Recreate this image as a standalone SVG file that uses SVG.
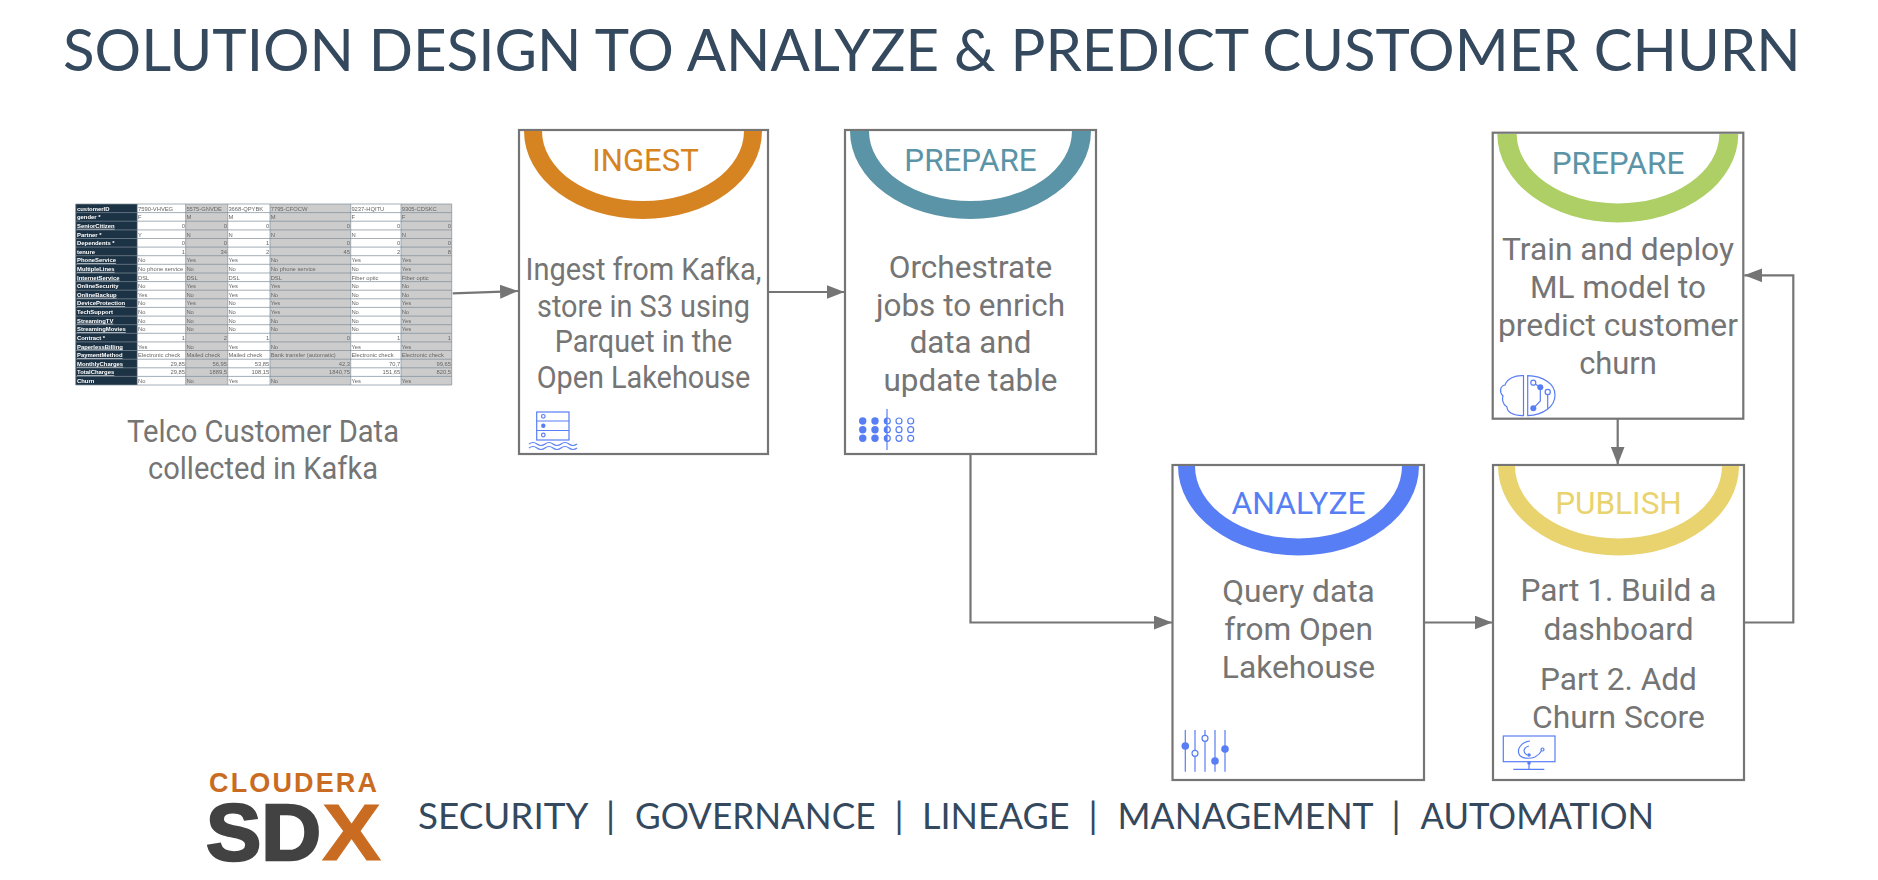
<svg xmlns="http://www.w3.org/2000/svg" width="1878" height="880" viewBox="0 0 1878 880">
<style>
text{font-family:Roboto,"Liberation Sans",sans-serif}
.t{font-family:Lato,"Liberation Sans",sans-serif;fill:#34495e}
.b{fill:#fff;stroke:#757575;stroke-width:2.2}
.h{font-size:31.5px;font-weight:400;text-anchor:middle}
.x{font-size:31.5px;font-weight:400;text-anchor:middle;fill:#757575}
.c{stroke:#757575;stroke-width:2.2;fill:none}
.i{fill:none;stroke:#587ef5;stroke-width:1.2}
.f{fill:#587ef5;stroke:none}
.o{fill:#fff;stroke:#587ef5;stroke-width:1.2}
.a{font-family:"Liberation Sans",sans-serif;font-size:5.8px;fill:#666}
.r{text-anchor:end}
.k{font-family:"Liberation Sans",sans-serif;font-size:5.9px;font-weight:bold;fill:#fff}
.u{text-decoration:underline;text-decoration-color:#c0392b}
.g{stroke:#7d8c9a;stroke-width:.7;fill:none}
</style>
<defs>
<marker id="ah" markerUnits="userSpaceOnUse" markerWidth="18" markerHeight="14" refX="18" refY="7" orient="auto"><path d="M0 0L18 7L0 14Z" fill="#757575"/></marker>
<filter id="bl" x="-2%" y="-2%" width="104%" height="104%"><feGaussianBlur stdDeviation="0.45"/></filter>
</defs>
<rect width="1878" height="880" fill="#fff"/>
<text class="t" x="63" y="71" font-size="58.2">SOLUTION DESIGN TO ANALYZE &amp; PREDICT CUSTOMER CHURN</text>

<g id="telco-table" filter="url(#bl)">
<rect x="75.7" y="204" width="61.6" height="181" fill="#1f3344"/>
<rect x="137.3" y="204" width="48.4" height="181" fill="#fff"/>
<rect x="185.7" y="204" width="42" height="181" fill="#ccc"/>
<rect x="227.7" y="204" width="42.3" height="181" fill="#fff"/>
<rect x="270" y="204" width="80.7" height="181" fill="#ccc"/>
<rect x="350.7" y="204" width="50.3" height="181" fill="#fff"/>
<rect x="401" y="204" width="50.7" height="181" fill="#ccc"/>
<path class="g" d="M75.7 204H451.7M75.7 212.6H451.7M75.7 221.2H451.7M75.7 229.9H451.7M75.7 238.5H451.7M75.7 247.1H451.7M75.7 255.7H451.7M75.7 264.3H451.7M75.7 273H451.7M75.7 281.6H451.7M75.7 290.2H451.7M75.7 298.8H451.7M75.7 307.4H451.7M75.7 316.1H451.7M75.7 324.7H451.7M75.7 333.3H451.7M75.7 341.9H451.7M75.7 350.5H451.7M75.7 359.2H451.7M75.7 367.8H451.7M75.7 376.4H451.7M75.7 385H451.7M75.7 204V385M137.3 204V385M185.7 204V385M227.7 204V385M270 204V385M350.7 204V385M401 204V385M451.7 204V385"/>
<g>
<text class="k" x="77" y="210.6">customerID</text><text class="k" x="77" y="219.2">gender *</text><text class="k u" x="77" y="227.8">SeniorCitizen</text><text class="k" x="77" y="236.5">Partner *</text><text class="k" x="77" y="245.1">Dependents *</text><text class="k" x="77" y="253.7">tenure</text><text class="k u" x="77" y="262.3">PhoneService</text><text class="k u" x="77" y="270.9">MultipleLines</text><text class="k u" x="77" y="279.6">InternetService</text><text class="k" x="77" y="288.2">OnlineSecurity</text><text class="k u" x="77" y="296.8">OnlineBackup</text><text class="k u" x="77" y="305.4">DeviceProtection</text><text class="k" x="77" y="314">TechSupport</text><text class="k u" x="77" y="322.7">StreamingTV</text><text class="k u" x="77" y="331.3">StreamingMovies</text><text class="k" x="77" y="339.9">Contract *</text><text class="k u" x="77" y="348.5">PaperlessBilling</text><text class="k u" x="77" y="357.1">PaymentMethod</text><text class="k u" x="77" y="365.8">MonthlyCharges</text><text class="k u" x="77" y="374.4">TotalCharges</text><text class="k" x="77" y="383">Churn</text>
</g>
<g>
<text class="a" x="138" y="210.6">7590-VHVEG</text><text class="a" x="186.4" y="210.6">5575-GNVDE</text><text class="a" x="228.4" y="210.6">3668-QPYBK</text><text class="a" x="270.7" y="210.6">7795-CFOCW</text><text class="a" x="351.4" y="210.6">9237-HQITU</text><text class="a" x="401.7" y="210.6">9305-CDSKC</text>
<text class="a" x="138" y="219.2">F</text><text class="a" x="186.4" y="219.2">M</text><text class="a" x="228.4" y="219.2">M</text><text class="a" x="270.7" y="219.2">M</text><text class="a" x="351.4" y="219.2">F</text><text class="a" x="401.7" y="219.2">F</text>
<text class="a r" x="185" y="227.8">0</text><text class="a r" x="227" y="227.8">0</text><text class="a r" x="269.3" y="227.8">0</text><text class="a r" x="350" y="227.8">0</text><text class="a r" x="400.3" y="227.8">0</text><text class="a r" x="451" y="227.8">0</text>
<text class="a" x="138" y="236.5">Y</text><text class="a" x="186.4" y="236.5">N</text><text class="a" x="228.4" y="236.5">N</text><text class="a" x="270.7" y="236.5">N</text><text class="a" x="351.4" y="236.5">N</text><text class="a" x="401.7" y="236.5">N</text>
<text class="a r" x="185" y="245.1">0</text><text class="a r" x="227" y="245.1">0</text><text class="a r" x="269.3" y="245.1">1</text><text class="a r" x="350" y="245.1">0</text><text class="a r" x="400.3" y="245.1">0</text><text class="a r" x="451" y="245.1">0</text>
<text class="a r" x="185" y="253.7">1</text><text class="a r" x="227" y="253.7">34</text><text class="a r" x="269.3" y="253.7">2</text><text class="a r" x="350" y="253.7">45</text><text class="a r" x="400.3" y="253.7">2</text><text class="a r" x="451" y="253.7">8</text>
<text class="a" x="138" y="262.3">No</text><text class="a" x="186.4" y="262.3">Yes</text><text class="a" x="228.4" y="262.3">Yes</text><text class="a" x="270.7" y="262.3">No</text><text class="a" x="351.4" y="262.3">Yes</text><text class="a" x="401.7" y="262.3">Yes</text>
<text class="a" x="138" y="270.9">No phone service</text><text class="a" x="186.4" y="270.9">No</text><text class="a" x="228.4" y="270.9">No</text><text class="a" x="270.7" y="270.9">No phone service</text><text class="a" x="351.4" y="270.9">No</text><text class="a" x="401.7" y="270.9">Yes</text>
<text class="a" x="138" y="279.6">DSL</text><text class="a" x="186.4" y="279.6">DSL</text><text class="a" x="228.4" y="279.6">DSL</text><text class="a" x="270.7" y="279.6">DSL</text><text class="a" x="351.4" y="279.6">Fiber optic</text><text class="a" x="401.7" y="279.6">Fiber optic</text>
<text class="a" x="138" y="288.2">No</text><text class="a" x="186.4" y="288.2">Yes</text><text class="a" x="228.4" y="288.2">Yes</text><text class="a" x="270.7" y="288.2">Yes</text><text class="a" x="351.4" y="288.2">No</text><text class="a" x="401.7" y="288.2">No</text>
<text class="a" x="138" y="296.8">Yes</text><text class="a" x="186.4" y="296.8">No</text><text class="a" x="228.4" y="296.8">Yes</text><text class="a" x="270.7" y="296.8">No</text><text class="a" x="351.4" y="296.8">No</text><text class="a" x="401.7" y="296.8">No</text>
<text class="a" x="138" y="305.4">No</text><text class="a" x="186.4" y="305.4">Yes</text><text class="a" x="228.4" y="305.4">No</text><text class="a" x="270.7" y="305.4">Yes</text><text class="a" x="351.4" y="305.4">No</text><text class="a" x="401.7" y="305.4">Yes</text>
<text class="a" x="138" y="314">No</text><text class="a" x="186.4" y="314">No</text><text class="a" x="228.4" y="314">No</text><text class="a" x="270.7" y="314">Yes</text><text class="a" x="351.4" y="314">No</text><text class="a" x="401.7" y="314">No</text>
<text class="a" x="138" y="322.7">No</text><text class="a" x="186.4" y="322.7">No</text><text class="a" x="228.4" y="322.7">No</text><text class="a" x="270.7" y="322.7">No</text><text class="a" x="351.4" y="322.7">No</text><text class="a" x="401.7" y="322.7">Yes</text>
<text class="a" x="138" y="331.3">No</text><text class="a" x="186.4" y="331.3">No</text><text class="a" x="228.4" y="331.3">No</text><text class="a" x="270.7" y="331.3">No</text><text class="a" x="351.4" y="331.3">No</text><text class="a" x="401.7" y="331.3">Yes</text>
<text class="a r" x="185" y="339.9">1</text><text class="a r" x="227" y="339.9">2</text><text class="a r" x="269.3" y="339.9">1</text><text class="a r" x="350" y="339.9">0</text><text class="a r" x="400.3" y="339.9">1</text><text class="a r" x="451" y="339.9">1</text>
<text class="a" x="138" y="348.5">Yes</text><text class="a" x="186.4" y="348.5">No</text><text class="a" x="228.4" y="348.5">Yes</text><text class="a" x="270.7" y="348.5">No</text><text class="a" x="351.4" y="348.5">Yes</text><text class="a" x="401.7" y="348.5">Yes</text>
<text class="a" x="138" y="357.1">Electronic check</text><text class="a" x="186.4" y="357.1">Mailed check</text><text class="a" x="228.4" y="357.1">Mailed check</text><text class="a" x="270.7" y="357.1">Bank transfer (automatic)</text><text class="a" x="351.4" y="357.1">Electronic check</text><text class="a" x="401.7" y="357.1">Electronic check</text>
<text class="a r" x="185" y="365.8">29,85</text><text class="a r" x="227" y="365.8">56,95</text><text class="a r" x="269.3" y="365.8">53,85</text><text class="a r" x="350" y="365.8">42,3</text><text class="a r" x="400.3" y="365.8">70,7</text><text class="a r" x="451" y="365.8">99,65</text>
<text class="a r" x="185" y="374.4">29,85</text><text class="a r" x="227" y="374.4">1889,5</text><text class="a r" x="269.3" y="374.4">108,15</text><text class="a r" x="350" y="374.4">1840,75</text><text class="a r" x="400.3" y="374.4">151,65</text><text class="a r" x="451" y="374.4">820,5</text>
<text class="a" x="138" y="383">No</text><text class="a" x="186.4" y="383">No</text><text class="a" x="228.4" y="383">Yes</text><text class="a" x="270.7" y="383">No</text><text class="a" x="351.4" y="383">Yes</text><text class="a" x="401.7" y="383">Yes</text>
</g>
</g>
<g id="telco-caption">
<text class="x" x="263" y="442" font-size="28" textLength="272" lengthAdjust="spacingAndGlyphs">Telco Customer Data</text>
<text class="x" x="263" y="479" font-size="28" textLength="230" lengthAdjust="spacingAndGlyphs">collected in Kafka</text>
</g>

<g id="connectors">
<path class="c" d="M452.7 293.4L518 291" marker-end="url(#ah)"/>
<path class="c" d="M768 292H844.5" marker-end="url(#ah)"/>
<path class="c" d="M970.5 454V622.5H1172" marker-end="url(#ah)"/>
<path class="c" d="M1425 622.5H1492.5" marker-end="url(#ah)"/>
<path class="c" d="M1744 622.5H1793.3V275.3H1744.3" marker-end="url(#ah)"/>
<path class="c" d="M1617.7 419V464.5" marker-end="url(#ah)"/>
</g>

<g id="ingest">
<rect class="b" x="519" y="130" width="249" height="324"/>
<path fill="#d68422" d="M524 131A119 88 0 0 0 762 131H744A101 70 0 0 1 542 131Z"/>
<text class="h" x="645.5" y="171" fill="#d68422" textLength="106.5" lengthAdjust="spacingAndGlyphs">INGEST</text>
<text class="x" x="643.5" y="280" textLength="236" lengthAdjust="spacingAndGlyphs">Ingest from Kafka,</text>
<text class="x" x="643.5" y="317" textLength="213" lengthAdjust="spacingAndGlyphs">store in S3 using</text>
<text class="x" x="643.5" y="352" textLength="177.6" lengthAdjust="spacingAndGlyphs">Parquet in the</text>
<text class="x" x="643.5" y="388" textLength="213.7" lengthAdjust="spacingAndGlyphs">Open Lakehouse</text>
<g>
<rect class="i" x="536.7" y="412" width="32.3" height="28"/>
<path class="i" d="M536.7 421H569M536.7 430.5H569"/>
<circle class="o" cx="543.3" cy="416.3" r="1.8"/><circle class="f" cx="543.3" cy="425.7" r="2.2"/><circle class="o" cx="543.3" cy="435" r="1.8"/>
<path class="i" d="M529 444q4-3 8 0t8 0t8 0t8 0t8 0t8 0M529 448q4-3 8 0t8 0t8 0t8 0t8 0t8 0"/>
</g>
</g>

<g id="prepare">
<rect class="b" x="845" y="130" width="251" height="324"/>
<path fill="#5b94a6" d="M850 131A120.5 88 0 0 0 1091 131H1072A101.5 70 0 0 1 869 131Z"/>
<text class="h" x="970.5" y="171" fill="#5b94a6" textLength="132.3" lengthAdjust="spacingAndGlyphs">PREPARE</text>
<text class="x" x="970.5" y="278" textLength="163.5" lengthAdjust="spacingAndGlyphs">Orchestrate</text>
<text class="x" x="970.5" y="316" textLength="189" lengthAdjust="spacingAndGlyphs">jobs to enrich</text>
<text class="x" x="970.5" y="353" textLength="121.7" lengthAdjust="spacingAndGlyphs">data and</text>
<text class="x" x="970.5" y="391" textLength="174" lengthAdjust="spacingAndGlyphs">update table</text>
<g>
<circle class="f" cx="862.7" cy="421" r="3.7"/><circle class="f" cx="875" cy="421" r="3.7"/><circle class="o" cx="887.3" cy="421" r="3"/><circle class="o" cx="899" cy="421" r="3"/><circle class="o" cx="910.7" cy="421" r="3"/>
<circle class="f" cx="862.7" cy="429.7" r="3.7"/><circle class="f" cx="875" cy="429.7" r="3.7"/><circle class="o" cx="887.3" cy="429.7" r="3"/><circle class="o" cx="899" cy="429.7" r="3"/><circle class="o" cx="910.7" cy="429.7" r="3"/>
<circle class="f" cx="862.7" cy="438.3" r="3.7"/><circle class="f" cx="875" cy="438.3" r="3.7"/><circle class="o" cx="887.3" cy="438.3" r="3"/><circle class="o" cx="899" cy="438.3" r="3"/><circle class="o" cx="910.7" cy="438.3" r="3"/>
<path class="f" d="M887 417.5a3.6 3.6 0 0 0 0 7zM887 426.2a3.6 3.6 0 0 0 0 7zM887 434.8a3.6 3.6 0 0 0 0 7z"/>
<path class="i" d="M887 409V450"/>
</g>
</g>

<g id="prepare-model">
<rect class="b" x="1492.7" y="132.7" width="250.6" height="286"/>
<path fill="#aecf66" d="M1497.3 134A120.5 88.5 0 0 0 1738.3 134H1719.3A101.3 69.5 0 0 1 1516.7 134Z"/>
<text class="h" x="1618" y="173.5" fill="#5b94a6" textLength="132.7" lengthAdjust="spacingAndGlyphs">PREPARE</text>
<text class="x" x="1618" y="260" textLength="232" lengthAdjust="spacingAndGlyphs">Train and deploy</text>
<text class="x" x="1618" y="298" textLength="176" lengthAdjust="spacingAndGlyphs">ML model to</text>
<text class="x" x="1618" y="336" textLength="240" lengthAdjust="spacingAndGlyphs">predict customer</text>
<text class="x" x="1618" y="374" textLength="77.7" lengthAdjust="spacingAndGlyphs">churn</text>
<g>
<path class="i" d="M1523.5 375.7V415.7C1513 416 1507 412 1507 407C1502 404 1502 398 1503 396C1499 392 1500 386 1505 385C1507 379 1515 375 1523.5 375.7Z"/>
<path class="i" d="M1527.7 375.7V415.7C1543 415 1555 407 1555 395C1555 384 1543 376 1527.7 375.7Z"/>
<path class="i" d="M1533.3 382.7L1540.3 387.3V401L1533.3 408.3M1547.7 392V409"/>
<circle class="o" cx="1533.3" cy="382.7" r="2.5"/><circle class="f" cx="1540.3" cy="387.3" r="3"/><circle class="o" cx="1547.7" cy="392" r="2.6"/><circle class="f" cx="1533.3" cy="408.3" r="3"/>
</g>
</g>

<g id="analyze">
<rect class="b" x="1172.5" y="465" width="251.5" height="315"/>
<path fill="#587ef5" d="M1178 466A120.5 89.5 0 0 0 1419 466H1402A103.5 72.5 0 0 1 1195 466Z"/>
<text class="h" x="1298.5" y="513.5" fill="#587ef5" textLength="134" lengthAdjust="spacingAndGlyphs">ANALYZE</text>
<text class="x" x="1298.5" y="602" textLength="152.5" lengthAdjust="spacingAndGlyphs">Query data</text>
<text class="x" x="1298.5" y="640" textLength="148.7" lengthAdjust="spacingAndGlyphs">from Open</text>
<text class="x" x="1298.5" y="678" textLength="153.4" lengthAdjust="spacingAndGlyphs">Lakehouse</text>
<g>
<path class="i" d="M1185.3 730V771.7M1195 730V771.7M1205 730V771.7M1215 730V771.7M1225 730V771.7"/>
<circle class="f" cx="1185.3" cy="746" r="3.8"/><circle class="o" cx="1195" cy="753.3" r="3"/><circle class="o" cx="1205" cy="738.3" r="3"/><circle class="f" cx="1215" cy="761" r="3.8"/><circle class="f" cx="1225" cy="749" r="3.8"/>
</g>
</g>

<g id="publish">
<rect class="b" x="1493" y="465" width="251" height="315"/>
<path fill="#e9d36e" d="M1498 466A120.5 89.5 0 0 0 1739 466H1722A103.5 72.5 0 0 1 1515 466Z"/>
<text class="h" x="1618.5" y="513.5" fill="#e9d36e" textLength="126.7" lengthAdjust="spacingAndGlyphs">PUBLISH</text>
<text class="x" x="1618.5" y="601" textLength="196" lengthAdjust="spacingAndGlyphs">Part 1. Build a</text>
<text class="x" x="1618.5" y="640" textLength="150" lengthAdjust="spacingAndGlyphs">dashboard</text>
<text class="x" x="1618.5" y="690" textLength="156.8" lengthAdjust="spacingAndGlyphs">Part 2. Add</text>
<text class="x" x="1618.5" y="728" textLength="172.9" lengthAdjust="spacingAndGlyphs">Churn Score</text>
<g>
<rect class="i" x="1503.3" y="736" width="51.7" height="25.7"/>
<path class="i" d="M1529 762V769.3M1513.3 769.3H1544.3"/>
<circle class="f" cx="1529" cy="763" r="1.8"/>
<path class="i" d="M1530 741C1521 742 1517 749 1519 754C1521 759 1530 759 1535 757C1539 755 1541 752 1542 750M1529 746C1524 747 1522 752 1527 755"/>
<circle class="f" cx="1529" cy="755" r="1.8"/><circle class="o" cx="1542.5" cy="749.5" r="1.5"/>
</g>
</g>

<g id="cloudera-sdx">
<text x="209" y="792.3" font-size="27" font-weight="700" fill="#c96c22" textLength="168" lengthAdjust="spacing" style="font-family:'Liberation Sans',sans-serif">CLOUDERA</text>
<text x="206" y="860" font-size="80" font-weight="700" fill="#424242" stroke="#424242" stroke-width="2.5" textLength="115" lengthAdjust="spacingAndGlyphs" style="font-family:'Liberation Sans',sans-serif">SD</text>
<text x="322" y="860" font-size="80" font-weight="700" fill="#c96c22" stroke="#c96c22" stroke-width="1" textLength="59" lengthAdjust="spacingAndGlyphs" style="font-family:'Liberation Sans',sans-serif">X</text>
</g>
<text id="footer" class="t" y="829" font-size="36.5"><tspan x="418" textLength="169" lengthAdjust="spacingAndGlyphs">SECURITY</tspan> <tspan x="606">|</tspan> <tspan x="635" textLength="240.5" lengthAdjust="spacingAndGlyphs">GOVERNANCE</tspan> <tspan x="894.5">|</tspan> <tspan x="922" textLength="147.5" lengthAdjust="spacingAndGlyphs">LINEAGE</tspan> <tspan x="1088.5">|</tspan> <tspan x="1117.5" textLength="255" lengthAdjust="spacingAndGlyphs">MANAGEMENT</tspan> <tspan x="1391.5">|</tspan> <tspan x="1420.5" textLength="233.5" lengthAdjust="spacingAndGlyphs">AUTOMATION</tspan></text>
</svg>
